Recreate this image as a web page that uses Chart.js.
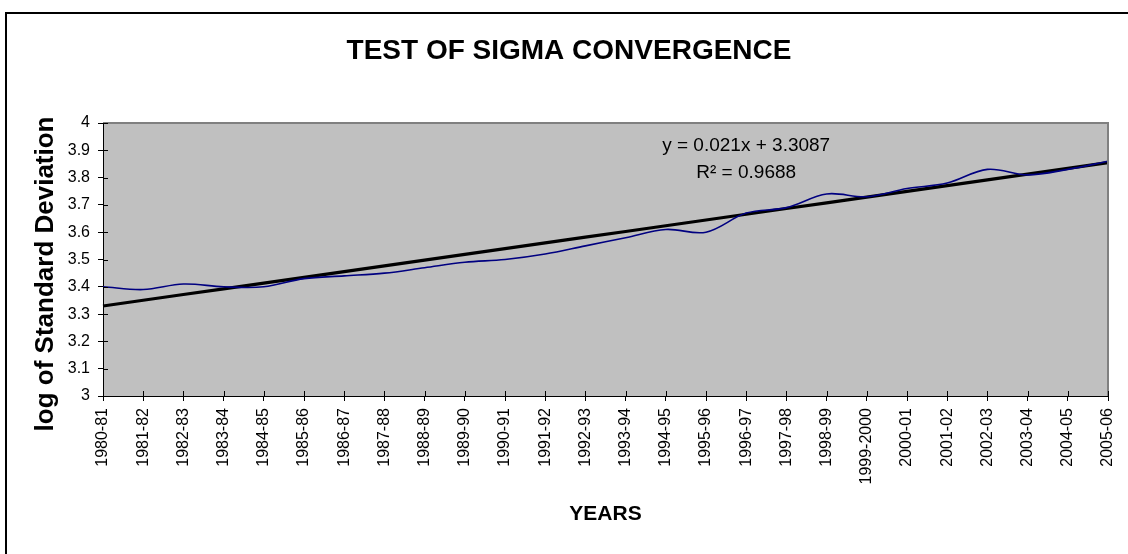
<!DOCTYPE html>
<html>
<head>
<meta charset="utf-8">
<title>Test of Sigma Convergence</title>
<script src="https://cdn.jsdelivr.net/npm/chart.js@4/dist/chart.umd.min.js"></script>
<style>
    body { margin: 0; background: #fff; }
    #wrap { position: relative; width: 1128px; height: 554px; overflow: hidden; }
    #frame { position: absolute; left: 5px; top: 12px; right: -20px; bottom: -20px; border-left: 2px solid #000; border-top: 2px solid #000; }
    canvas { position: absolute; left: 0; top: 0; }
</style>
</head>
<body>
<div id="wrap">
    <div id="frame"></div>
    <canvas id="sigmaChart" width="1128" height="554"></canvas>
</div>
<script>
const years = [
    '1980-81', '1981-82', '1982-83', '1983-84', '1984-85', '1985-86', '1986-87',
    '1987-88', '1988-89', '1989-90', '1990-91', '1991-92', '1992-93', '1993-94',
    '1994-95', '1995-96', '1996-97', '1997-98', '1998-99', '1999-2000', '2000-01',
    '2001-02', '2002-03', '2003-04', '2004-05', '2005-06'
];

// log of standard deviation
const logStdDev = [
    3.40, 3.39, 3.41, 3.40, 3.40, 3.43, 3.44,
    3.45, 3.47, 3.49, 3.50, 3.52, 3.55, 3.58,
    3.61, 3.60, 3.67, 3.69, 3.74, 3.73, 3.76,
    3.78, 3.83, 3.81, 3.83, 3.86
];

// linear trendline as printed on the chart (x = 1, 2, ... per year)
const trendSlope = 0.021;
const trendIntercept = 3.3087;
const rSquared = 0.9688;
const trendValues = years.map((_, i) => trendIntercept + trendSlope * (i + 1));

const FONT = '"Liberation Sans", Arial, sans-serif';
Chart.defaults.font.family = FONT;
Chart.defaults.color = '#000';

const plotDecor = {
    id: 'plotDecor',
    beforeDraw(chart) {
        const { ctx, chartArea: a } = chart;
        ctx.save();
        ctx.fillStyle = '#c0c0c0';
        ctx.fillRect(a.left, a.top, a.right - a.left, a.bottom - a.top);
        ctx.restore();
    },
    afterDraw(chart) {
        const { ctx, chartArea: a, scales } = chart;
        ctx.save();
        // grey frame on top and right of plot area
        ctx.strokeStyle = '#808080';
        ctx.lineWidth = 2;
        ctx.beginPath();
        ctx.moveTo(a.left, a.top);
        ctx.lineTo(a.right, a.top);
        ctx.lineTo(a.right, a.bottom);
        ctx.stroke();

        // inner half of the crossing tick marks
        ctx.strokeStyle = '#000';
        ctx.lineWidth = 1;
        ctx.beginPath();
        scales.y.ticks.forEach((t, i) => {
            const py = Math.round(scales.y.getPixelForTick(i)) + 0.5;
            ctx.moveTo(a.left, py);
            ctx.lineTo(a.left + 5, py);
        });
        scales.x.ticks.forEach((t, i) => {
            const px = Math.round(scales.x.getPixelForTick(i)) + 0.5;
            ctx.moveTo(px, a.bottom);
            ctx.lineTo(px, a.bottom - 5);
        });
        ctx.stroke();

        // trendline equation
        ctx.fillStyle = '#000';
        ctx.font = '19px ' + FONT;
        ctx.textAlign = 'center';
        ctx.textBaseline = 'middle';
        const ex = scales.x.getPixelForValue(16);
        ctx.fillText(`y = ${trendSlope}x + ${trendIntercept}`, ex, a.top + 23);
        ctx.fillText(`R\u00B2 = ${rSquared}`, ex, a.top + 50);
        ctx.restore();
    }
};

new Chart(document.getElementById('sigmaChart'), {
    type: 'line',
    data: {
        labels: years,
        datasets: [{
            label: 'log of Standard Deviation',
            data: logStdDev,
            borderColor: '#000080',
            borderWidth: 1.6,
            pointRadius: 0,
            fill: false,
            tension: 0.35
        }, {
            label: 'Linear trend',
            data: trendValues,
            borderColor: '#000',
            borderWidth: 3.2,
            pointRadius: 0,
            fill: false,
            tension: 0
        }]
    },
    options: {
        responsive: false,
        animation: false,
        layout: {
            padding: { left: 30, right: 20, top: 0, bottom: 0 }
        },
        plugins: {
            legend: { display: false },
            tooltip: { enabled: false },
            title: {
                display: true,
                text: 'TEST OF SIGMA CONVERGENCE',
                color: '#000',
                font: { size: 28, weight: 'bold' },
                padding: { top: 34, bottom: 55.4 }
            }
        },
        scales: {
            x: {
                offset: false,
                grid: { drawOnChartArea: false, color: '#000', tickLength: 5 },
                border: { color: '#000', width: 1 },
                ticks: {
                    autoSkip: false,
                    maxRotation: 90,
                    minRotation: 90,
                    padding: 7,
                    color: '#000',
                    font: { size: 16 }
                },
                title: {
                    display: true,
                    text: 'YEARS',
                    color: '#000',
                    font: { size: 21, weight: 'bold' },
                    padding: { top: 0, bottom: 27 }
                },
                afterFit(scale) {
                    scale.height = 158;
                    scale.paddingLeft = 0;
                    scale.paddingRight = 0;
                }
            },
            y: {
                min: 3,
                max: 4,
                grid: { drawOnChartArea: false, color: '#000', tickLength: 5 },
                border: { color: '#000', width: 1 },
                ticks: {
                    stepSize: 0.1,
                    padding: 8,
                    color: '#000',
                    font: { size: 16 },
                    callback: v => +v.toFixed(1)
                },
                title: {
                    display: true,
                    // trailing spaces nudge the rotated title a little lower, as in the original
                    text: 'log of Standard Deviation    ',
                    color: '#000',
                    font: { size: 26, weight: 'bold' },
                    padding: { top: 0, bottom: 0 }
                },
                afterFit(scale) { scale.width = 73; }
            }
        }
    },
    plugins: [plotDecor]
});
</script>
</body>
</html>
